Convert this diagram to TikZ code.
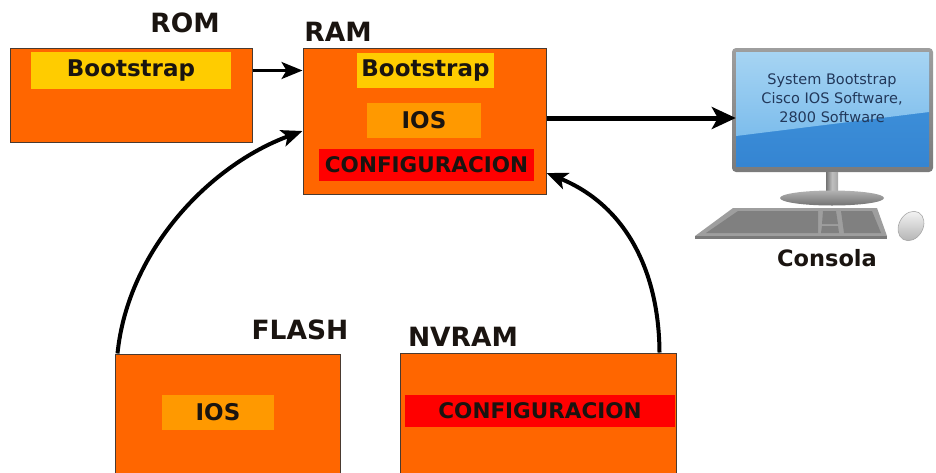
\documentclass[tikz,border=0pt]{standalone}
\usepackage{fontspec}
\setmainfont{DejaVu Sans}
\usetikzlibrary{arrows.meta}
\definecolor{boxorange}{HTML}{FF6600}
\definecolor{bootyellow}{HTML}{FFCC00}
\definecolor{iosorange}{HTML}{FF9900}
\definecolor{cfgred}{HTML}{FF0000}
\definecolor{edge}{HTML}{4A3A30}
\definecolor{inktext}{HTML}{1A1410}
\definecolor{screentext}{HTML}{22385A}
\definecolor{screendeep}{HTML}{4397DE}
\definecolor{screendeeper}{HTML}{3585D2}
\definecolor{screenpale}{HTML}{A6D4F3}
\definecolor{screenmid}{HTML}{7DBDEC}
\tikzset{
  memory/.style={draw=edge, line width=1pt, fill=boxorange, inner sep=0pt},
  part/.style={inner sep=0pt, text=inktext,
    font=\fontsize{23}{26}\selectfont\bfseries},
  bootpart/.style={part, fill=bootyellow},
  iospart/.style={part, fill=iosorange},
  cfgpart/.style={part, fill=cfgred, font=\fontsize{21.5}{24}\selectfont\bfseries},
  title/.style={inner sep=0pt, text=inktext,
    font=\fontsize{26.5}{30}\selectfont\bfseries},
  flow/.style={line width=#1, -{Stealth[length=21pt,width=17pt,inset=5pt]}},
  flow/.default=4pt,
  bigflow/.style={line width=5pt, -{Stealth[length=24pt,width=22pt,inset=6pt]}}
}
\begin{document}
\begin{tikzpicture}[x=1pt,y=-1pt]
\useasboundingbox (0,0) rectangle (936,472);

% memory blocks
\node[memory, minimum width=242pt, minimum height=94pt] (rom) at (131,95) {};
\node[memory, minimum width=243pt, minimum height=146pt] (ram) at (424.5,121) {};
\node[memory, minimum width=225pt, minimum height=124pt] (flash) at (227.5,416) {};
\node[memory, minimum width=276pt, minimum height=125pt] (nvram) at (538,415.5) {};

% contents of each block
\node[bootpart, minimum width=200pt, minimum height=37pt] (romboot) at (131,70.5) {Bootstrap};
\node[bootpart, minimum width=137pt, minimum height=35pt] (ramboot) at (425.5,70.5) {Bootstrap};
\node[iospart, minimum width=114pt, minimum height=35pt] (ramios) at (424,120.5) {IOS};
\node[cfgpart, minimum width=215pt, minimum height=32pt] (ramcfg) at (426.5,165) {CONFIGURACION};
\node[iospart, minimum width=112pt, minimum height=35pt] (flashios) at (218,412.5) {IOS};
\node[cfgpart, minimum width=270pt, minimum height=32pt] (nvramcfg) at (540,411) {CONFIGURACION};

% block titles
\node[title] (romlbl) at (185,23) {ROM};
\node[title] (ramlbl) at (338,32) {RAM};
\node[title] (flashlbl) at (300,330) {FLASH};
\node[title] (nvramlbl) at (463,337) {NVRAM};

% console: monitor
\shade[top color=black!38, bottom color=black!52, rounded corners=4pt]
  (732,48) rectangle (933,172);
\node[inner sep=0pt, minimum width=193pt, minimum height=114pt] (screen) at (832.5,109) {};
\shade[top color=screendeep, bottom color=screendeeper]
  (736,52) rectangle (929,166);
\shade[top color=screenpale, bottom color=screenmid]
  (736,52) -- (929,52) -- (929,112) -- (736,136) -- cycle;
\shade[left color=black!55, right color=black!35, middle color=black!25]
  (826,172) rectangle (838,193);
\shade[top color=black!30, bottom color=black!55]
  (832,198) ellipse [x radius=52pt, y radius=7.5pt];
% console: keyboard
\fill[black!38] (733,208) -- (877,208) -- (887,236) -- (695,236) -- cycle;
\fill[black!52] (695,236) -- (887,236) -- (887,239) -- (695,239) -- cycle;
\fill[black!50] (738,211) -- (818,211) -- (818,233) -- (706,233) -- cycle;
\fill[black!50] (823,211) -- (836,211) -- (838,224) -- (822,224) -- cycle;
\fill[black!50] (822,226) -- (838,226) -- (839,233) -- (821,233) -- cycle;
\fill[black!50] (841,211) -- (872,211) -- (881,233) -- (844,233) -- cycle;
% console: mouse
\shade[top color=black!6, bottom color=black!28, draw=black!35, line width=0.6pt,
  rotate around={-30:(911,226)}]
  (911,226) ellipse [x radius=12pt, y radius=15.5pt];
\node[inner sep=0pt, align=center, text=screentext,
  font=\fontsize{14.5}{19}\selectfont] (screentxt) at (832,98)
  {System Bootstrap\\Cisco IOS Software,\\2800 Software};
\node[inner sep=0pt, text=inktext, font=\fontsize{22.5}{26}\selectfont\bfseries]
  (consola) at (827,258) {Consola};

% data flow
\draw[flow=3pt] (rom.east |- romboot.east) -- (ram.west |- romboot.east);
\draw[bigflow] (ram.east |- 0,118) -- (screen.west |- 0,118);
\coordinate (flashout) at ([xshift=3pt]flash.north west);
\coordinate (flashin) at ([yshift=-10pt]ram.west);
\draw[flow] (flashout) .. controls (128,250) and (210,165) .. (flashin);
\coordinate (nvramout) at ([xshift=-17pt]nvram.north east);
\coordinate (nvramin) at ([yshift=-52pt]ram.east);
\draw[flow] (nvramout) .. controls (659,270) and (625,205) .. (nvramin);
\end{tikzpicture}
\end{document}
